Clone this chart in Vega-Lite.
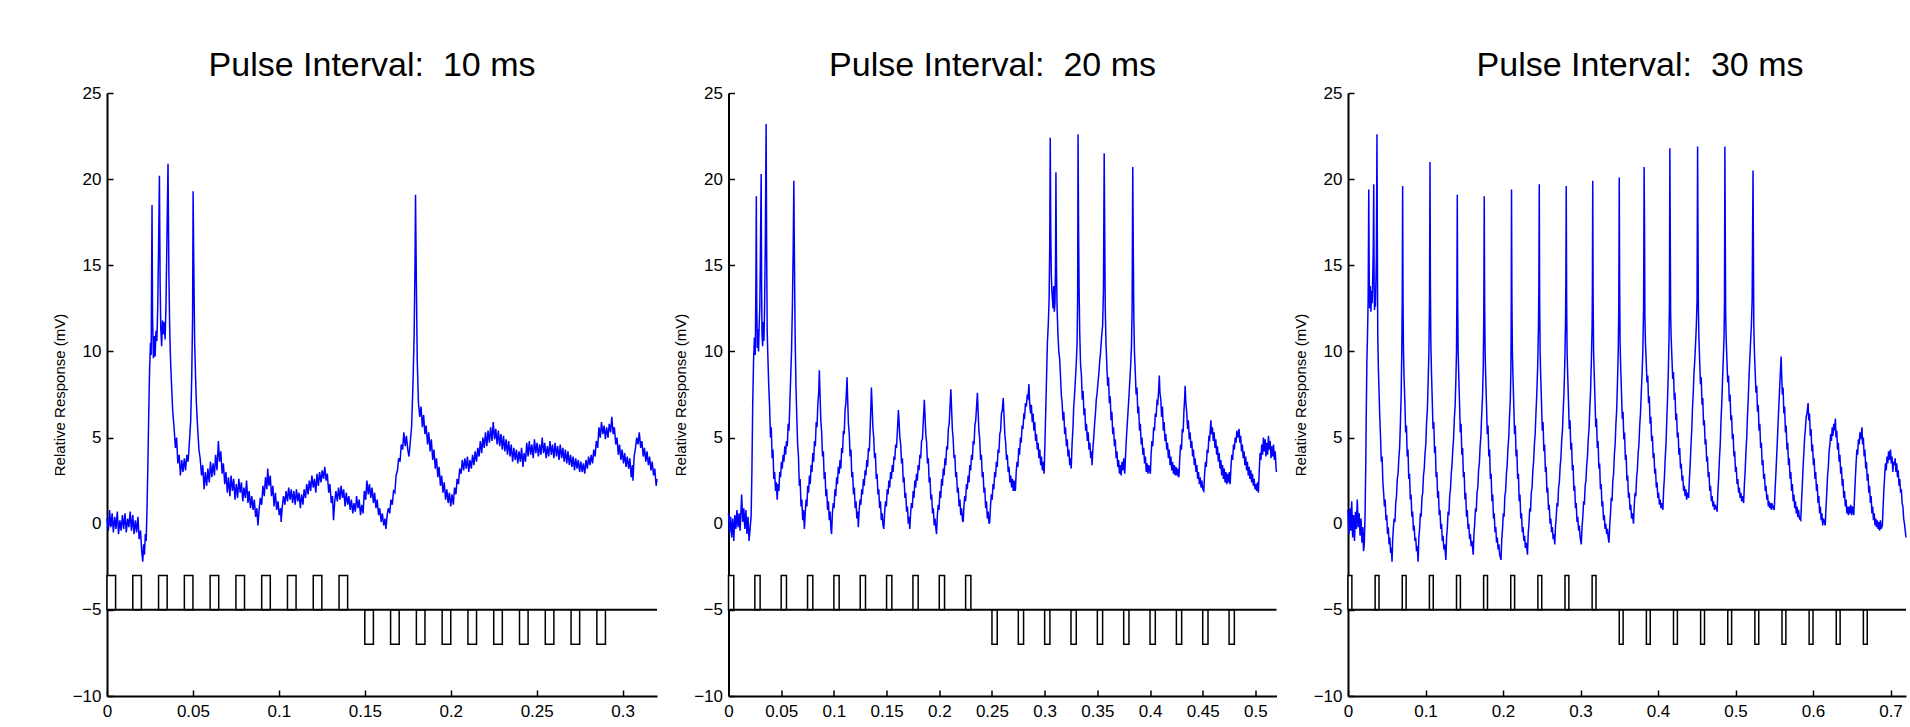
{
"$schema":"https://vega.github.io/schema/vega-lite/v6.json",
"background":"white",
"padding":{"left":52,"top":49,"right":4,"bottom":4},
"spacing":71.5,
"bounds":"flush",
"config":{
 "view":{"stroke":null},
 "axis":{"domainColor":"#000","domainWidth":2,"tickColor":"#000","tickWidth":1.5,"tickSize":-6,"labelFont":"Liberation Sans, Arial, sans-serif","labelFontSize":17,"labelColor":"#000","titleFont":"Liberation Sans, Arial, sans-serif","titleFontSize":15,"titleFontWeight":"normal","titleColor":"#000","grid":false,"labelFlush":false,"labelOverlap":false},
 "axisY":{"labelPadding":12,"titlePadding":5},
 "axisX":{"labelPadding":13},
 "title":{"font":"Liberation Sans, Arial, sans-serif","fontSize":34,"fontWeight":"normal","color":"#000","anchor":"middle","frame":"group","baseline":"alphabetic","offset":1}
},
"datasets":{
"pulse1":[{"x":0,"x2":0.005,"y":-5,"y2":-3},{"x":0.015,"x2":0.02,"y":-5,"y2":-3},{"x":0.03,"x2":0.035,"y":-5,"y2":-3},{"x":0.045,"x2":0.05,"y":-5,"y2":-3},{"x":0.06,"x2":0.065,"y":-5,"y2":-3},{"x":0.075,"x2":0.08,"y":-5,"y2":-3},{"x":0.09,"x2":0.095,"y":-5,"y2":-3},{"x":0.105,"x2":0.11,"y":-5,"y2":-3},{"x":0.12,"x2":0.125,"y":-5,"y2":-3},{"x":0.135,"x2":0.14,"y":-5,"y2":-3},
{"x":0.15,"x2":0.155,"y":-7,"y2":-5},{"x":0.165,"x2":0.17,"y":-7,"y2":-5},{"x":0.18,"x2":0.185,"y":-7,"y2":-5},{"x":0.195,"x2":0.2,"y":-7,"y2":-5},{"x":0.21,"x2":0.215,"y":-7,"y2":-5},{"x":0.225,"x2":0.23,"y":-7,"y2":-5},{"x":0.24,"x2":0.245,"y":-7,"y2":-5},{"x":0.255,"x2":0.26,"y":-7,"y2":-5},{"x":0.27,"x2":0.275,"y":-7,"y2":-5},{"x":0.285,"x2":0.29,"y":-7,"y2":-5}],
"pulse2":[{"x":0,"x2":0.005,"y":-5,"y2":-3},{"x":0.025,"x2":0.03,"y":-5,"y2":-3},{"x":0.05,"x2":0.055,"y":-5,"y2":-3},{"x":0.075,"x2":0.08,"y":-5,"y2":-3},{"x":0.1,"x2":0.105,"y":-5,"y2":-3},{"x":0.125,"x2":0.13,"y":-5,"y2":-3},{"x":0.15,"x2":0.155,"y":-5,"y2":-3},{"x":0.175,"x2":0.18,"y":-5,"y2":-3},{"x":0.2,"x2":0.205,"y":-5,"y2":-3},{"x":0.225,"x2":0.23,"y":-5,"y2":-3},
{"x":0.25,"x2":0.255,"y":-7,"y2":-5},{"x":0.275,"x2":0.28,"y":-7,"y2":-5},{"x":0.3,"x2":0.305,"y":-7,"y2":-5},{"x":0.325,"x2":0.33,"y":-7,"y2":-5},{"x":0.35,"x2":0.355,"y":-7,"y2":-5},{"x":0.375,"x2":0.38,"y":-7,"y2":-5},{"x":0.4,"x2":0.405,"y":-7,"y2":-5},{"x":0.425,"x2":0.43,"y":-7,"y2":-5},{"x":0.45,"x2":0.455,"y":-7,"y2":-5},{"x":0.475,"x2":0.48,"y":-7,"y2":-5}],
"pulse3":[{"x":0,"x2":0.005,"y":-5,"y2":-3},{"x":0.035,"x2":0.04,"y":-5,"y2":-3},{"x":0.07,"x2":0.075,"y":-5,"y2":-3},{"x":0.105,"x2":0.11,"y":-5,"y2":-3},{"x":0.14,"x2":0.145,"y":-5,"y2":-3},{"x":0.175,"x2":0.18,"y":-5,"y2":-3},{"x":0.21,"x2":0.215,"y":-5,"y2":-3},{"x":0.245,"x2":0.25,"y":-5,"y2":-3},{"x":0.28,"x2":0.285,"y":-5,"y2":-3},{"x":0.315,"x2":0.32,"y":-5,"y2":-3},
{"x":0.35,"x2":0.355,"y":-7,"y2":-5},{"x":0.385,"x2":0.39,"y":-7,"y2":-5},{"x":0.42,"x2":0.425,"y":-7,"y2":-5},{"x":0.455,"x2":0.46,"y":-7,"y2":-5},{"x":0.49,"x2":0.495,"y":-7,"y2":-5},{"x":0.525,"x2":0.53,"y":-7,"y2":-5},{"x":0.56,"x2":0.565,"y":-7,"y2":-5},{"x":0.595,"x2":0.6,"y":-7,"y2":-5},{"x":0.63,"x2":0.635,"y":-7,"y2":-5},{"x":0.665,"x2":0.67,"y":-7,"y2":-5}],
"base1":[{"x":0,"x2":0.32,"y":-5}],
"base2":[{"x":0,"x2":0.52,"y":-5}],
"base3":[{"x":0,"x2":0.72,"y":-5}],
"trace1":[
{"t":0,"v":0.3},{"t":0.0008,"v":-0.4},{"t":0.0015,"v":0.8},{"t":0.0022,"v":-0.2},{"t":0.003,"v":0.6},{"t":0.0037,"v":-0.5},{"t":0.0045,"v":0.4},{"t":0.0052,"v":-0.3},{"t":0.006,"v":0.7},{"t":0.0067,"v":-0.6},{"t":0.0075,"v":0.2},{"t":0.0082,"v":-0.4},{"t":0.009,"v":0.5},{"t":0.0097,"v":-0.3},{"t":0.0105,"v":0.6},{"t":0.0112,"v":-0.5},{"t":0.012,"v":0.3},{"t":0.0127,"v":-0.2},{"t":0.0135,"v":0.7},{"t":0.0142,"v":-0.4},{"t":0.015,"v":0.5},{"t":0.0157,"v":-0.6},{"t":0.0165,"v":0.2},{"t":0.0172,"v":-0.5},{"t":0.018,"v":0.4},{"t":0.0187,"v":-0.9},{"t":0.0195,"v":-0.4},{"t":0.0202,"v":-1.6},{"t":0.0208,"v":-2.2},{"t":0.0213,"v":-1.2},{"t":0.0218,"v":-1.8},{"t":0.0223,"v":-0.6},{"t":0.0228,"v":-1.0},{"t":0.0233,"v":1.0},{"t":0.0238,"v":3.5},{"t":0.0243,"v":6.5},{"t":0.0248,"v":9.0},{"t":0.0253,"v":10.5},{"t":0.0257,"v":9.8},{"t":0.026,"v":15},{"t":0.0262,"v":18.5},{"t":0.0265,"v":12},{"t":0.027,"v":9.6},{"t":0.0275,"v":10.9},{"t":0.028,"v":9.7},{"t":0.0285,"v":11.2},{"t":0.029,"v":10.6},{"t":0.0295,"v":12.5},{"t":0.03,"v":16},{"t":0.0305,"v":20.2},{"t":0.0309,"v":14},{"t":0.0313,"v":11.3},{"t":0.0318,"v":10.3},{"t":0.0323,"v":11.8},{"t":0.0328,"v":11.0},{"t":0.0333,"v":11.7},{"t":0.0338,"v":10.7},{"t":0.0343,"v":12.6},{"t":0.0348,"v":16},{"t":0.0355,"v":20.9},{"t":0.036,"v":14.5},{"t":0.0365,"v":11.2},{"t":0.037,"v":9.4},{"t":0.0375,"v":8.2},{"t":0.0382,"v":6.6},{"t":0.039,"v":5.6},{"t":0.0398,"v":4.4},{"t":0.0405,"v":5.0},{"t":0.0412,"v":3.5},{"t":0.042,"v":4.0},{"t":0.0427,"v":2.8},{"t":0.0435,"v":3.7},{"t":0.0442,"v":3.0},{"t":0.045,"v":3.8},{"t":0.0457,"v":3.1},{"t":0.0465,"v":4.0},{"t":0.0472,"v":3.6},{"t":0.048,"v":4.8},{"t":0.0487,"v":6.0},{"t":0.0493,"v":8.5},{"t":0.0498,"v":12},{"t":0.0501,"v":19.3},{"t":0.0505,"v":15},{"t":0.051,"v":10.5},{"t":0.0515,"v":8.6},{"t":0.052,"v":7.0},{"t":0.0527,"v":5.6},{"t":0.0535,"v":4.3},{"t":0.0542,"v":3.8},{"t":0.055,"v":2.8},{"t":0.0557,"v":3.4},{"t":0.0565,"v":2.0},{"t":0.0572,"v":3.0},{"t":0.058,"v":2.2},{"t":0.0587,"v":3.2},{"t":0.0595,"v":2.4},{"t":0.0602,"v":3.6},{"t":0.061,"v":2.7},{"t":0.0617,"v":3.5},{"t":0.0625,"v":2.8},{"t":0.0632,"v":4.0},{"t":0.064,"v":3.1},{"t":0.0648,"v":4.8},{"t":0.0655,"v":3.6},{"t":0.0662,"v":4.2},{"t":0.067,"v":2.9},{"t":0.0677,"v":3.5},{"t":0.0685,"v":2.3},{"t":0.0692,"v":3.0},{"t":0.07,"v":1.8},{"t":0.0707,"v":2.7},{"t":0.0715,"v":1.6},{"t":0.0722,"v":2.8},{"t":0.073,"v":1.9},{"t":0.0737,"v":2.6},{"t":0.0745,"v":1.4},{"t":0.0752,"v":2.3},{"t":0.076,"v":1.5},{"t":0.0767,"v":2.6},{"t":0.0775,"v":1.8},{"t":0.0782,"v":2.4},{"t":0.079,"v":1.3},{"t":0.0797,"v":2.1},{"t":0.0805,"v":1.5},{"t":0.0812,"v":2.5},{"t":0.082,"v":1.2},{"t":0.0827,"v":1.9},{"t":0.0835,"v":0.9},{"t":0.0842,"v":1.6},{"t":0.085,"v":0.8},{"t":0.0857,"v":1.4},{"t":0.0865,"v":0.4},{"t":0.0872,"v":0.9},{"t":0.0878,"v":-0.1},{"t":0.0885,"v":0.8},{"t":0.0892,"v":1.5},{"t":0.09,"v":1.1},{"t":0.0907,"v":2.2},{"t":0.0915,"v":1.6},{"t":0.0922,"v":2.7},{"t":0.093,"v":2.0},{"t":0.0935,"v":3.2},{"t":0.0942,"v":2.2},{"t":0.095,"v":2.8},{"t":0.0957,"v":1.6},{"t":0.0965,"v":2.2},{"t":0.0972,"v":1.0},{"t":0.098,"v":1.8},{"t":0.0987,"v":0.8},{"t":0.0995,"v":1.3},{"t":0.1002,"v":0.5},{"t":0.101,"v":0.9},{"t":0.1013,"v":0.1},{"t":0.102,"v":1.0},{"t":0.1027,"v":1.6},{"t":0.1035,"v":1.1},{"t":0.1042,"v":1.9},{"t":0.105,"v":1.3},{"t":0.1057,"v":2.1},{"t":0.1065,"v":1.4},{"t":0.1072,"v":2.0},{"t":0.108,"v":1.2},{"t":0.1087,"v":1.9},{"t":0.1095,"v":1.1},{"t":0.1102,"v":2.0},{"t":0.111,"v":1.3},{"t":0.1117,"v":1.8},{"t":0.1125,"v":0.9},{"t":0.1132,"v":1.7},{"t":0.114,"v":1.1},{"t":0.1147,"v":2.0},{"t":0.1155,"v":1.5},{"t":0.1162,"v":2.3},{"t":0.117,"v":1.7},{"t":0.1177,"v":2.5},{"t":0.1185,"v":1.9},{"t":0.1192,"v":2.8},{"t":0.12,"v":2.1},{"t":0.1207,"v":2.6},{"t":0.1215,"v":1.8},{"t":0.1222,"v":2.9},{"t":0.123,"v":2.2},{"t":0.1237,"v":3.0},{"t":0.1245,"v":2.4},{"t":0.1252,"v":3.1},{"t":0.126,"v":2.6},{"t":0.1267,"v":3.3},{"t":0.1275,"v":2.5},{"t":0.1282,"v":2.9},{"t":0.129,"v":1.8},{"t":0.1297,"v":2.3},{"t":0.1305,"v":1.2},{"t":0.1312,"v":1.6},{"t":0.1318,"v":0.2},{"t":0.1325,"v":1.3},{"t":0.1332,"v":1.9},{"t":0.134,"v":1.3},{"t":0.1347,"v":2.1},{"t":0.1355,"v":1.4},{"t":0.1362,"v":2.2},{"t":0.137,"v":1.5},{"t":0.1377,"v":2.0},{"t":0.1385,"v":1.0},{"t":0.1392,"v":1.8},{"t":0.14,"v":1.1},{"t":0.1407,"v":1.6},{"t":0.1415,"v":0.8},{"t":0.1422,"v":1.4},{"t":0.143,"v":0.6},{"t":0.1437,"v":1.2},{"t":0.1445,"v":0.7},{"t":0.1452,"v":1.6},{"t":0.146,"v":0.9},{"t":0.1467,"v":1.4},{"t":0.1475,"v":0.5},{"t":0.1482,"v":1.1},{"t":0.149,"v":0.6},{"t":0.1497,"v":1.9},{"t":0.1505,"v":1.4},{"t":0.1512,"v":2.5},{"t":0.152,"v":1.7},{"t":0.1527,"v":2.3},{"t":0.1535,"v":1.5},{"t":0.1542,"v":2.1},{"t":0.155,"v":1.2},{"t":0.1557,"v":1.8},{"t":0.1565,"v":0.9},{"t":0.1572,"v":1.4},{"t":0.158,"v":0.5},{"t":0.1587,"v":0.9},{"t":0.1595,"v":0.1},{"t":0.1602,"v":0.6},{"t":0.161,"v":-0.1},{"t":0.1617,"v":0.3},{"t":0.1623,"v":-0.3},{"t":0.163,"v":0.5},{"t":0.1637,"v":0.9},{"t":0.1645,"v":0.6},{"t":0.1652,"v":1.4},{"t":0.166,"v":1.1},{"t":0.1667,"v":1.9},{"t":0.1675,"v":1.8},{"t":0.1682,"v":2.8},{"t":0.169,"v":3.1},{"t":0.1697,"v":3.8},{"t":0.1705,"v":3.6},{"t":0.1712,"v":4.6},{"t":0.172,"v":4.3},{"t":0.1727,"v":5.3},{"t":0.1735,"v":4.5},{"t":0.1742,"v":5.1},{"t":0.175,"v":4.3},{"t":0.1757,"v":3.9},{"t":0.1765,"v":4.8},{"t":0.1772,"v":5.6},{"t":0.178,"v":8},{"t":0.1787,"v":11},{"t":0.1792,"v":15},{"t":0.1795,"v":19.1},{"t":0.18,"v":14},{"t":0.1805,"v":9.5},{"t":0.1812,"v":7.0},{"t":0.182,"v":6.2},{"t":0.1827,"v":6.8},{"t":0.1835,"v":5.6},{"t":0.1842,"v":6.3},{"t":0.185,"v":5.2},{"t":0.1857,"v":5.7},{"t":0.1865,"v":4.6},{"t":0.1872,"v":5.3},{"t":0.188,"v":4.2},{"t":0.1887,"v":4.9},{"t":0.1895,"v":3.7},{"t":0.1902,"v":4.3},{"t":0.191,"v":3.2},{"t":0.1917,"v":3.8},{"t":0.1925,"v":2.7},{"t":0.1932,"v":3.3},{"t":0.194,"v":2.2},{"t":0.1947,"v":2.8},{"t":0.1955,"v":1.8},{"t":0.1962,"v":2.4},{"t":0.197,"v":1.4},{"t":0.1977,"v":2.0},{"t":0.1985,"v":1.2},{"t":0.1992,"v":1.8},{"t":0.2,"v":1.0},{"t":0.2007,"v":1.7},{"t":0.2015,"v":1.1},{"t":0.2022,"v":2.1},{"t":0.203,"v":1.7},{"t":0.2037,"v":2.6},{"t":0.2045,"v":2.3},{"t":0.2052,"v":3.2},{"t":0.206,"v":2.9},{"t":0.2067,"v":3.7},{"t":0.2075,"v":3.1},{"t":0.2082,"v":3.8},{"t":0.209,"v":3.2},{"t":0.2097,"v":3.9},{"t":0.2105,"v":3.0},{"t":0.2112,"v":3.7},{"t":0.212,"v":3.2},{"t":0.2127,"v":4.0},{"t":0.2135,"v":3.4},{"t":0.2142,"v":4.2},{"t":0.215,"v":3.6},{"t":0.2157,"v":4.4},{"t":0.2165,"v":3.9},{"t":0.2172,"v":4.8},{"t":0.218,"v":4.1},{"t":0.2187,"v":5.0},{"t":0.2195,"v":4.4},{"t":0.2202,"v":5.3},{"t":0.221,"v":4.5},{"t":0.2217,"v":5.4},{"t":0.2225,"v":4.7},{"t":0.2232,"v":5.6},{"t":0.224,"v":4.8},{"t":0.2247,"v":5.9},{"t":0.2255,"v":4.9},{"t":0.2262,"v":5.5},{"t":0.227,"v":4.6},{"t":0.2277,"v":5.4},{"t":0.2285,"v":4.5},{"t":0.2292,"v":5.2},{"t":0.23,"v":4.3},{"t":0.2307,"v":5.1},{"t":0.2315,"v":4.2},{"t":0.2322,"v":4.9},{"t":0.233,"v":4.0},{"t":0.2337,"v":4.8},{"t":0.2345,"v":3.9},{"t":0.2352,"v":4.6},{"t":0.236,"v":3.6},{"t":0.2367,"v":4.4},{"t":0.2375,"v":3.7},{"t":0.2382,"v":4.3},{"t":0.239,"v":3.5},{"t":0.2397,"v":4.2},{"t":0.2405,"v":3.6},{"t":0.2412,"v":4.4},{"t":0.242,"v":3.3},{"t":0.2427,"v":4.1},{"t":0.2435,"v":3.6},{"t":0.2442,"v":4.7},{"t":0.245,"v":3.9},{"t":0.2457,"v":4.8},{"t":0.2465,"v":4.0},{"t":0.2472,"v":4.6},{"t":0.248,"v":3.8},{"t":0.2487,"v":4.9},{"t":0.2495,"v":4.1},{"t":0.2502,"v":4.7},{"t":0.251,"v":3.9},{"t":0.2517,"v":4.6},{"t":0.2525,"v":4.0},{"t":0.2532,"v":5.0},{"t":0.254,"v":4.1},{"t":0.2547,"v":4.7},{"t":0.2555,"v":3.8},{"t":0.2562,"v":4.5},{"t":0.257,"v":3.9},{"t":0.2577,"v":4.8},{"t":0.2585,"v":4.0},{"t":0.2592,"v":4.6},{"t":0.26,"v":3.8},{"t":0.2607,"v":4.7},{"t":0.2615,"v":3.9},{"t":0.2622,"v":4.5},{"t":0.263,"v":3.7},{"t":0.2637,"v":4.6},{"t":0.2645,"v":3.8},{"t":0.2652,"v":4.4},{"t":0.266,"v":3.6},{"t":0.2667,"v":4.3},{"t":0.2675,"v":3.5},{"t":0.2682,"v":4.2},{"t":0.269,"v":3.4},{"t":0.2697,"v":4.0},{"t":0.2705,"v":3.3},{"t":0.2712,"v":3.9},{"t":0.272,"v":3.1},{"t":0.2727,"v":3.8},{"t":0.2735,"v":3.2},{"t":0.2742,"v":3.7},{"t":0.275,"v":3.0},{"t":0.2757,"v":3.6},{"t":0.2765,"v":3.0},{"t":0.2772,"v":3.5},{"t":0.278,"v":2.9},{"t":0.2787,"v":3.7},{"t":0.2795,"v":3.2},{"t":0.2802,"v":3.9},{"t":0.281,"v":3.4},{"t":0.2817,"v":4.0},{"t":0.2825,"v":3.5},{"t":0.2832,"v":4.3},{"t":0.284,"v":3.9},{"t":0.2847,"v":4.8},{"t":0.2855,"v":4.4},{"t":0.2862,"v":5.6},{"t":0.287,"v":5.0},{"t":0.2877,"v":5.9},{"t":0.2885,"v":5.2},{"t":0.2892,"v":5.7},{"t":0.29,"v":4.9},{"t":0.2907,"v":5.6},{"t":0.2915,"v":5.0},{"t":0.2922,"v":5.8},{"t":0.293,"v":5.3},{"t":0.2937,"v":6.2},{"t":0.2945,"v":5.2},{"t":0.2952,"v":5.6},{"t":0.296,"v":4.6},{"t":0.2967,"v":5.0},{"t":0.2975,"v":4.0},{"t":0.2982,"v":4.6},{"t":0.299,"v":3.7},{"t":0.2997,"v":4.3},{"t":0.3005,"v":3.5},{"t":0.3012,"v":4.1},{"t":0.302,"v":3.3},{"t":0.3027,"v":3.9},{"t":0.3035,"v":3.2},{"t":0.3042,"v":3.8},{"t":0.305,"v":2.7},{"t":0.3057,"v":3.4},{"t":0.306,"v":2.5},{"t":0.3067,"v":3.9},{"t":0.3075,"v":4.4},{"t":0.3082,"v":5.0},{"t":0.309,"v":4.6},{"t":0.3097,"v":5.3},{"t":0.3105,"v":4.4},{"t":0.3112,"v":4.8},{"t":0.312,"v":3.9},{"t":0.3127,"v":4.4},{"t":0.3135,"v":3.6},{"t":0.3142,"v":4.2},{"t":0.315,"v":3.4},{"t":0.3157,"v":3.9},{"t":0.3165,"v":3.1},{"t":0.3172,"v":3.6},{"t":0.318,"v":2.8},{"t":0.3187,"v":3.2},{"t":0.3195,"v":2.2},{"t":0.32,"v":2.6}],
"trace2":[
{"t":0,"v":0.6},{"t":0.001,"v":-0.5},{"t":0.002,"v":0.4},{"t":0.003,"v":-0.8},{"t":0.004,"v":0.3},{"t":0.005,"v":-1.0},{"t":0.006,"v":0.5},{"t":0.007,"v":-0.3},{"t":0.008,"v":0.8},{"t":0.009,"v":-0.2},{"t":0.01,"v":0.6},{"t":0.011,"v":-0.4},{"t":0.0125,"v":1.7},{"t":0.0135,"v":0.1},{"t":0.0145,"v":0.9},{"t":0.0155,"v":-0.3},{"t":0.0165,"v":0.8},{"t":0.0175,"v":-0.6},{"t":0.0185,"v":0.4},{"t":0.0195,"v":-1.0},{"t":0.0205,"v":-0.3},{"t":0.0215,"v":0.5},{"t":0.0222,"v":3},{"t":0.023,"v":7},{"t":0.0238,"v":9.5},{"t":0.0246,"v":10.8},{"t":0.0254,"v":9.8},{"t":0.026,"v":14},{"t":0.0264,"v":19.0},{"t":0.0268,"v":13},{"t":0.0273,"v":10.2},{"t":0.0279,"v":11.3},{"t":0.0285,"v":10.0},{"t":0.0291,"v":11.5},{"t":0.0297,"v":12.5},{"t":0.0302,"v":15.2},{"t":0.031,"v":20.3},{"t":0.0314,"v":14},{"t":0.0318,"v":11},{"t":0.0324,"v":10.3},{"t":0.033,"v":11.7},{"t":0.0336,"v":10.6},{"t":0.0342,"v":12.4},{"t":0.0349,"v":16},{"t":0.0357,"v":23.2},{"t":0.0362,"v":16},{"t":0.0367,"v":11.2},{"t":0.0374,"v":9.6},{"t":0.0382,"v":8.0},{"t":0.039,"v":6.8},{"t":0.0398,"v":5.0},{"t":0.0406,"v":5.6},{"t":0.0414,"v":3.8},{"t":0.0422,"v":4.3},{"t":0.043,"v":2.6},{"t":0.0438,"v":3.0},{"t":0.0446,"v":1.9},{"t":0.0454,"v":2.4},{"t":0.0462,"v":1.4},{"t":0.047,"v":2.3},{"t":0.0478,"v":1.9},{"t":0.0486,"v":3.0},{"t":0.0494,"v":2.7},{"t":0.0502,"v":3.6},{"t":0.051,"v":3.2},{"t":0.0518,"v":4.0},{"t":0.0526,"v":3.6},{"t":0.0534,"v":4.5},{"t":0.0542,"v":4.0},{"t":0.055,"v":4.8},{"t":0.0558,"v":4.5},{"t":0.0566,"v":5.8},{"t":0.0574,"v":5.4},{"t":0.0582,"v":7.0},{"t":0.059,"v":8.5},{"t":0.0598,"v":10},{"t":0.0606,"v":12.5},{"t":0.0614,"v":16},{"t":0.062,"v":19.9},{"t":0.0626,"v":15},{"t":0.0632,"v":11},{"t":0.064,"v":8.0},{"t":0.0648,"v":6.2},{"t":0.0656,"v":4.6},{"t":0.0664,"v":3.9},{"t":0.0672,"v":2.2},{"t":0.068,"v":2.6},{"t":0.0688,"v":1.0},{"t":0.0696,"v":1.4},{"t":0.0704,"v":0.2},{"t":0.0712,"v":0.8},{"t":0.072,"v":-0.3},{"t":0.0728,"v":0.6},{"t":0.0736,"v":1.4},{"t":0.0744,"v":1.0},{"t":0.0752,"v":2.2},{"t":0.076,"v":1.8},{"t":0.0768,"v":2.8},{"t":0.0776,"v":2.3},{"t":0.0784,"v":3.4},{"t":0.0792,"v":3.0},{"t":0.08,"v":4.1},{"t":0.0808,"v":3.6},{"t":0.0816,"v":4.8},{"t":0.0824,"v":4.5},{"t":0.0832,"v":5.9},{"t":0.084,"v":5.6},{"t":0.0848,"v":7.0},{"t":0.0856,"v":7.6},{"t":0.0862,"v":8.9},{"t":0.0868,"v":7.6},{"t":0.0876,"v":6.0},{"t":0.0884,"v":5.3},{"t":0.0892,"v":3.9},{"t":0.09,"v":4.2},{"t":0.0908,"v":2.6},{"t":0.0916,"v":3.0},{"t":0.0924,"v":1.6},{"t":0.0932,"v":2.0},{"t":0.094,"v":0.8},{"t":0.0948,"v":1.3},{"t":0.0956,"v":0.2},{"t":0.0964,"v":0.7},{"t":0.0972,"v":-0.3},{"t":0.0978,"v":-0.6},{"t":0.0986,"v":0.6},{"t":0.0994,"v":1.2},{"t":0.1002,"v":0.9},{"t":0.101,"v":2.0},{"t":0.1018,"v":1.6},{"t":0.1026,"v":2.7},{"t":0.1034,"v":2.3},{"t":0.1042,"v":3.3},{"t":0.105,"v":2.9},{"t":0.1058,"v":3.7},{"t":0.1066,"v":3.2},{"t":0.1074,"v":4.4},{"t":0.1082,"v":4.1},{"t":0.109,"v":5.4},{"t":0.1098,"v":5.2},{"t":0.1106,"v":6.6},{"t":0.1114,"v":7.0},{"t":0.112,"v":7.8},{"t":0.1125,"v":8.5},{"t":0.113,"v":7.4},{"t":0.1138,"v":5.8},{"t":0.1146,"v":5.2},{"t":0.1154,"v":3.9},{"t":0.1162,"v":4.3},{"t":0.117,"v":2.7},{"t":0.1178,"v":3.0},{"t":0.1186,"v":1.7},{"t":0.1194,"v":2.1},{"t":0.1202,"v":0.9},{"t":0.121,"v":1.3},{"t":0.1218,"v":0.3},{"t":0.1226,"v":0.7},{"t":0.1232,"v":-0.2},{"t":0.124,"v":0.8},{"t":0.1248,"v":1.4},{"t":0.1256,"v":1.1},{"t":0.1264,"v":2.0},{"t":0.1272,"v":1.7},{"t":0.128,"v":2.6},{"t":0.1288,"v":2.2},{"t":0.1296,"v":3.1},{"t":0.1304,"v":2.8},{"t":0.1312,"v":3.7},{"t":0.132,"v":3.3},{"t":0.1328,"v":4.4},{"t":0.1336,"v":4.2},{"t":0.1344,"v":5.5},{"t":0.135,"v":6.6},{"t":0.1356,"v":7.9},{"t":0.1362,"v":7.0},{"t":0.137,"v":5.6},{"t":0.1378,"v":5.0},{"t":0.1386,"v":3.8},{"t":0.1394,"v":4.1},{"t":0.1402,"v":2.6},{"t":0.141,"v":2.9},{"t":0.1418,"v":1.7},{"t":0.1426,"v":2.0},{"t":0.1434,"v":0.9},{"t":0.1442,"v":1.3},{"t":0.145,"v":0.2},{"t":0.1458,"v":0.6},{"t":0.1466,"v":-0.1},{"t":0.1474,"v":-0.3},{"t":0.1482,"v":0.7},{"t":0.149,"v":1.3},{"t":0.1498,"v":1.0},{"t":0.1506,"v":2.0},{"t":0.1514,"v":1.7},{"t":0.1522,"v":2.5},{"t":0.153,"v":2.1},{"t":0.1538,"v":3.0},{"t":0.1546,"v":2.6},{"t":0.1554,"v":3.4},{"t":0.1562,"v":3.0},{"t":0.157,"v":3.9},{"t":0.1578,"v":3.7},{"t":0.1586,"v":4.6},{"t":0.1594,"v":4.4},{"t":0.1602,"v":5.3},{"t":0.1608,"v":6.0},{"t":0.1612,"v":6.6},{"t":0.1618,"v":6.0},{"t":0.1626,"v":5.0},{"t":0.1634,"v":4.6},{"t":0.1642,"v":3.5},{"t":0.165,"v":3.8},{"t":0.1658,"v":2.4},{"t":0.1666,"v":2.7},{"t":0.1674,"v":1.5},{"t":0.1682,"v":1.8},{"t":0.169,"v":0.7},{"t":0.1698,"v":1.0},{"t":0.1706,"v":0.0},{"t":0.1714,"v":0.4},{"t":0.172,"v":-0.3},{"t":0.1728,"v":0.6},{"t":0.1736,"v":1.2},{"t":0.1744,"v":0.9},{"t":0.1752,"v":1.9},{"t":0.176,"v":1.5},{"t":0.1768,"v":2.5},{"t":0.1776,"v":2.1},{"t":0.1784,"v":2.9},{"t":0.1792,"v":2.5},{"t":0.18,"v":3.4},{"t":0.1808,"v":3.1},{"t":0.1816,"v":4.0},{"t":0.1824,"v":3.8},{"t":0.1832,"v":4.8},{"t":0.184,"v":4.9},{"t":0.1848,"v":5.9},{"t":0.1854,"v":6.6},{"t":0.1858,"v":7.2},{"t":0.1864,"v":6.4},{"t":0.1872,"v":5.2},{"t":0.188,"v":4.7},{"t":0.1888,"v":3.5},{"t":0.1896,"v":3.8},{"t":0.1904,"v":2.4},{"t":0.1912,"v":2.7},{"t":0.192,"v":1.4},{"t":0.1928,"v":1.7},{"t":0.1936,"v":0.6},{"t":0.1944,"v":0.9},{"t":0.1952,"v":-0.1},{"t":0.196,"v":0.3},{"t":0.1968,"v":-0.3},{"t":0.1974,"v":-0.6},{"t":0.1982,"v":0.5},{"t":0.199,"v":1.1},{"t":0.1998,"v":0.8},{"t":0.2006,"v":1.9},{"t":0.2014,"v":1.5},{"t":0.2022,"v":2.6},{"t":0.203,"v":2.2},{"t":0.2038,"v":3.2},{"t":0.2046,"v":2.8},{"t":0.2054,"v":3.8},{"t":0.2062,"v":3.4},{"t":0.207,"v":4.5},{"t":0.2078,"v":4.3},{"t":0.2086,"v":5.5},{"t":0.2094,"v":5.8},{"t":0.2102,"v":6.8},{"t":0.211,"v":7.8},{"t":0.2116,"v":6.8},{"t":0.2124,"v":5.5},{"t":0.2132,"v":4.9},{"t":0.214,"v":3.8},{"t":0.2148,"v":4.0},{"t":0.2156,"v":2.7},{"t":0.2164,"v":3.0},{"t":0.2172,"v":1.8},{"t":0.218,"v":2.1},{"t":0.2188,"v":1.0},{"t":0.2196,"v":1.4},{"t":0.2204,"v":0.5},{"t":0.2212,"v":0.9},{"t":0.222,"v":0.2},{"t":0.2227,"v":0.1},{"t":0.2234,"v":1.0},{"t":0.2242,"v":1.6},{"t":0.225,"v":1.3},{"t":0.2258,"v":2.3},{"t":0.2266,"v":2.0},{"t":0.2274,"v":2.8},{"t":0.2282,"v":2.4},{"t":0.229,"v":3.4},{"t":0.2298,"v":3.1},{"t":0.2306,"v":4.0},{"t":0.2314,"v":3.7},{"t":0.2322,"v":4.8},{"t":0.233,"v":4.6},{"t":0.2338,"v":5.7},{"t":0.2346,"v":6.0},{"t":0.2354,"v":6.8},{"t":0.2362,"v":7.6},{"t":0.2368,"v":6.6},{"t":0.2376,"v":5.4},{"t":0.2384,"v":4.9},{"t":0.2392,"v":3.7},{"t":0.24,"v":4.0},{"t":0.2408,"v":2.7},{"t":0.2416,"v":3.0},{"t":0.2424,"v":1.8},{"t":0.2432,"v":2.1},{"t":0.244,"v":0.9},{"t":0.2448,"v":1.3},{"t":0.2456,"v":0.3},{"t":0.2464,"v":0.7},{"t":0.2472,"v":0.0},{"t":0.2479,"v":0.1},{"t":0.2486,"v":1.0},{"t":0.2494,"v":1.7},{"t":0.2502,"v":1.4},{"t":0.251,"v":2.3},{"t":0.2518,"v":2.0},{"t":0.2526,"v":3.0},{"t":0.2534,"v":2.7},{"t":0.2542,"v":3.6},{"t":0.255,"v":3.3},{"t":0.2558,"v":4.3},{"t":0.2566,"v":4.1},{"t":0.2574,"v":5.2},{"t":0.2582,"v":5.4},{"t":0.259,"v":6.4},{"t":0.2598,"v":6.6},{"t":0.2607,"v":7.3},{"t":0.2614,"v":6.3},{"t":0.2622,"v":5.2},{"t":0.263,"v":4.7},{"t":0.2638,"v":3.7},{"t":0.2646,"v":4.0},{"t":0.2654,"v":3.0},{"t":0.2662,"v":3.3},{"t":0.267,"v":2.4},{"t":0.2678,"v":2.8},{"t":0.2686,"v":2.1},{"t":0.2694,"v":2.6},{"t":0.2702,"v":1.9},{"t":0.271,"v":2.5},{"t":0.2718,"v":1.9},{"t":0.2723,"v":2.0},{"t":0.273,"v":3.0},{"t":0.2738,"v":3.6},{"t":0.2746,"v":3.3},{"t":0.2754,"v":4.4},{"t":0.2762,"v":4.0},{"t":0.277,"v":5.0},{"t":0.2778,"v":4.7},{"t":0.2786,"v":5.7},{"t":0.2794,"v":5.5},{"t":0.2802,"v":6.3},{"t":0.281,"v":6.2},{"t":0.2818,"v":7.0},{"t":0.2826,"v":6.8},{"t":0.2834,"v":7.4},{"t":0.2842,"v":7.3},{"t":0.2851,"v":8.1},{"t":0.2858,"v":7.0},{"t":0.2866,"v":6.4},{"t":0.2874,"v":6.9},{"t":0.2882,"v":5.9},{"t":0.289,"v":6.4},{"t":0.2898,"v":5.4},{"t":0.2906,"v":5.9},{"t":0.2914,"v":4.8},{"t":0.2922,"v":5.2},{"t":0.293,"v":4.3},{"t":0.2938,"v":4.7},{"t":0.2946,"v":3.8},{"t":0.2954,"v":4.3},{"t":0.2962,"v":3.4},{"t":0.297,"v":3.9},{"t":0.2978,"v":3.1},{"t":0.2986,"v":3.6},{"t":0.2995,"v":2.9},{"t":0.3002,"v":4.5},{"t":0.301,"v":6.5},{"t":0.3018,"v":8.5},{"t":0.3026,"v":10.5},{"t":0.3034,"v":11.5},{"t":0.3042,"v":13},{"t":0.3048,"v":16},{"t":0.3053,"v":22.4},{"t":0.3058,"v":17},{"t":0.3063,"v":14.5},{"t":0.3068,"v":13.6},{"t":0.3074,"v":13.0},{"t":0.308,"v":12.5},{"t":0.3086,"v":13.8},{"t":0.3092,"v":12.3},{"t":0.3098,"v":12.8},{"t":0.3103,"v":15},{"t":0.3107,"v":20.4},{"t":0.3112,"v":15},{"t":0.3118,"v":12.5},{"t":0.3126,"v":11},{"t":0.3134,"v":10},{"t":0.3142,"v":9.6},{"t":0.315,"v":8.6},{"t":0.3158,"v":7.5},{"t":0.3166,"v":7.0},{"t":0.3174,"v":6.0},{"t":0.3182,"v":6.5},{"t":0.319,"v":5.2},{"t":0.3198,"v":5.6},{"t":0.3206,"v":4.5},{"t":0.3214,"v":4.9},{"t":0.3222,"v":3.9},{"t":0.323,"v":4.3},{"t":0.3238,"v":3.4},{"t":0.3246,"v":3.8},{"t":0.3252,"v":3.2},{"t":0.326,"v":4.6},{"t":0.3268,"v":5.5},{"t":0.3276,"v":6.8},{"t":0.3284,"v":7.5},{"t":0.3292,"v":8.4},{"t":0.33,"v":9.3},{"t":0.3308,"v":10.5},{"t":0.3313,"v":13},{"t":0.3317,"v":22.6},{"t":0.3322,"v":17},{"t":0.3327,"v":13.5},{"t":0.3333,"v":11},{"t":0.3341,"v":9.2},{"t":0.3349,"v":8.6},{"t":0.3357,"v":7.2},{"t":0.3365,"v":7.7},{"t":0.3373,"v":6.3},{"t":0.3381,"v":6.7},{"t":0.3389,"v":5.4},{"t":0.3397,"v":5.8},{"t":0.3405,"v":4.8},{"t":0.3413,"v":5.3},{"t":0.3421,"v":4.3},{"t":0.3429,"v":4.7},{"t":0.3437,"v":3.8},{"t":0.3445,"v":4.2},{"t":0.345,"v":3.4},{"t":0.3458,"v":4.4},{"t":0.3466,"v":5.0},{"t":0.3474,"v":5.8},{"t":0.3482,"v":6.4},{"t":0.349,"v":7.2},{"t":0.3498,"v":7.6},{"t":0.3506,"v":8.2},{"t":0.3514,"v":8.7},{"t":0.3522,"v":9.4},{"t":0.353,"v":9.9},{"t":0.354,"v":10.8},{"t":0.355,"v":11.5},{"t":0.3558,"v":13.5},{"t":0.3565,"v":21.5},{"t":0.357,"v":17},{"t":0.3575,"v":12.5},{"t":0.3582,"v":10.5},{"t":0.359,"v":9.2},{"t":0.3598,"v":8.0},{"t":0.3606,"v":8.5},{"t":0.3614,"v":7.0},{"t":0.3622,"v":7.4},{"t":0.363,"v":6.0},{"t":0.3638,"v":6.5},{"t":0.3646,"v":5.2},{"t":0.3654,"v":5.6},{"t":0.3662,"v":4.5},{"t":0.367,"v":4.9},{"t":0.3678,"v":3.8},{"t":0.3686,"v":4.2},{"t":0.3694,"v":3.3},{"t":0.3702,"v":3.7},{"t":0.371,"v":2.9},{"t":0.3718,"v":3.4},{"t":0.3726,"v":2.8},{"t":0.3734,"v":3.6},{"t":0.3742,"v":3.1},{"t":0.375,"v":3.8},{"t":0.376,"v":2.9},{"t":0.3768,"v":4.0},{"t":0.3776,"v":5.0},{"t":0.3784,"v":5.8},{"t":0.3792,"v":6.6},{"t":0.38,"v":7.4},{"t":0.3808,"v":8.3},{"t":0.3816,"v":9.2},{"t":0.3824,"v":10.3},{"t":0.383,"v":12.5},{"t":0.3836,"v":20.7},{"t":0.3841,"v":16},{"t":0.3846,"v":12},{"t":0.3852,"v":10.0},{"t":0.386,"v":8.8},{"t":0.3868,"v":7.5},{"t":0.3876,"v":7.9},{"t":0.3884,"v":6.4},{"t":0.3892,"v":6.8},{"t":0.39,"v":5.4},{"t":0.3908,"v":5.8},{"t":0.3916,"v":4.6},{"t":0.3924,"v":5.0},{"t":0.3932,"v":4.0},{"t":0.394,"v":4.4},{"t":0.3948,"v":3.5},{"t":0.3956,"v":3.9},{"t":0.3964,"v":3.0},{"t":0.3972,"v":3.5},{"t":0.398,"v":2.9},{"t":0.3988,"v":3.4},{"t":0.3996,"v":3.1},{"t":0.4003,"v":2.9},{"t":0.401,"v":4.0},{"t":0.4018,"v":4.8},{"t":0.4026,"v":4.5},{"t":0.4034,"v":5.6},{"t":0.4042,"v":5.4},{"t":0.405,"v":6.4},{"t":0.4058,"v":6.2},{"t":0.4066,"v":7.1},{"t":0.4074,"v":7.0},{"t":0.4082,"v":7.8},{"t":0.4088,"v":8.6},{"t":0.4094,"v":7.6},{"t":0.4102,"v":7.2},{"t":0.411,"v":6.2},{"t":0.4118,"v":6.8},{"t":0.4126,"v":5.4},{"t":0.4134,"v":5.9},{"t":0.4142,"v":4.8},{"t":0.415,"v":5.2},{"t":0.4158,"v":4.3},{"t":0.4166,"v":4.7},{"t":0.4174,"v":3.8},{"t":0.4182,"v":4.3},{"t":0.419,"v":3.4},{"t":0.4198,"v":3.9},{"t":0.4206,"v":3.1},{"t":0.4214,"v":3.6},{"t":0.4222,"v":2.9},{"t":0.423,"v":3.4},{"t":0.4238,"v":2.8},{"t":0.4246,"v":3.3},{"t":0.4254,"v":2.8},{"t":0.4262,"v":3.2},{"t":0.427,"v":2.7},{"t":0.4275,"v":2.8},{"t":0.4282,"v":3.8},{"t":0.429,"v":4.6},{"t":0.4298,"v":4.3},{"t":0.4306,"v":5.5},{"t":0.4314,"v":5.3},{"t":0.4322,"v":6.6},{"t":0.4328,"v":7.2},{"t":0.4333,"v":8.0},{"t":0.434,"v":7.0},{"t":0.4348,"v":6.5},{"t":0.4356,"v":5.5},{"t":0.4364,"v":6.0},{"t":0.4372,"v":4.9},{"t":0.438,"v":5.3},{"t":0.4388,"v":4.4},{"t":0.4396,"v":4.8},{"t":0.4404,"v":3.9},{"t":0.4412,"v":4.3},{"t":0.442,"v":3.4},{"t":0.4428,"v":3.8},{"t":0.4436,"v":3.0},{"t":0.4444,"v":3.4},{"t":0.4452,"v":2.6},{"t":0.446,"v":3.0},{"t":0.4468,"v":2.3},{"t":0.4476,"v":2.7},{"t":0.4484,"v":2.1},{"t":0.4492,"v":2.5},{"t":0.45,"v":2.0},{"t":0.451,"v":1.9},{"t":0.4518,"v":2.9},{"t":0.4526,"v":3.6},{"t":0.4534,"v":3.3},{"t":0.4542,"v":4.3},{"t":0.455,"v":4.1},{"t":0.4558,"v":5.0},{"t":0.4566,"v":4.9},{"t":0.4574,"v":5.7},{"t":0.4577,"v":6.0},{"t":0.4584,"v":5.2},{"t":0.4592,"v":5.6},{"t":0.46,"v":4.8},{"t":0.4608,"v":5.3},{"t":0.4616,"v":4.4},{"t":0.4624,"v":4.9},{"t":0.4632,"v":4.0},{"t":0.464,"v":4.5},{"t":0.4648,"v":3.6},{"t":0.4656,"v":4.1},{"t":0.4664,"v":3.2},{"t":0.4672,"v":3.7},{"t":0.468,"v":2.8},{"t":0.4688,"v":3.4},{"t":0.4696,"v":2.6},{"t":0.4704,"v":3.2},{"t":0.4712,"v":2.4},{"t":0.472,"v":3.0},{"t":0.4728,"v":2.3},{"t":0.4736,"v":2.9},{"t":0.4744,"v":2.4},{"t":0.4752,"v":3.0},{"t":0.476,"v":2.3},{"t":0.4768,"v":3.3},{"t":0.4776,"v":4.0},{"t":0.4784,"v":3.7},{"t":0.4792,"v":4.6},{"t":0.48,"v":4.3},{"t":0.4808,"v":5.0},{"t":0.4816,"v":4.7},{"t":0.4824,"v":5.4},{"t":0.4832,"v":5.0},{"t":0.4845,"v":5.5},{"t":0.4852,"v":4.7},{"t":0.486,"v":5.1},{"t":0.4868,"v":4.2},{"t":0.4876,"v":4.6},{"t":0.4884,"v":3.8},{"t":0.4892,"v":4.2},{"t":0.49,"v":3.4},{"t":0.4908,"v":3.9},{"t":0.4916,"v":3.1},{"t":0.4924,"v":3.6},{"t":0.4932,"v":2.8},{"t":0.494,"v":3.3},{"t":0.4948,"v":2.6},{"t":0.4956,"v":3.1},{"t":0.4964,"v":2.4},{"t":0.4972,"v":2.9},{"t":0.498,"v":2.2},{"t":0.4988,"v":2.6},{"t":0.4996,"v":2.0},{"t":0.5004,"v":2.3},{"t":0.5012,"v":1.9},{"t":0.502,"v":2.4},{"t":0.5028,"v":1.8},{"t":0.5036,"v":3.0},{"t":0.5044,"v":4.1},{"t":0.5052,"v":3.7},{"t":0.506,"v":4.6},{"t":0.5068,"v":4.0},{"t":0.5076,"v":5.0},{"t":0.5084,"v":4.2},{"t":0.5092,"v":4.9},{"t":0.51,"v":3.9},{"t":0.5108,"v":4.7},{"t":0.5116,"v":4.0},{"t":0.5124,"v":5.1},{"t":0.5132,"v":4.3},{"t":0.514,"v":4.8},{"t":0.5148,"v":3.8},{"t":0.5156,"v":4.5},{"t":0.5164,"v":3.9},{"t":0.5172,"v":4.6},{"t":0.518,"v":3.7},{"t":0.5188,"v":4.2},{"t":0.5196,"v":3.2},{"t":0.52,"v":3.0}],
"trace3":[
{"t":0,"v":0.8},{"t":0.0012,"v":-0.6},{"t":0.0024,"v":0.9},{"t":0.0036,"v":-0.4},{"t":0.0048,"v":1.3},{"t":0.006,"v":-0.8},{"t":0.0072,"v":0.5},{"t":0.0084,"v":-1.0},{"t":0.0096,"v":0.7},{"t":0.0108,"v":-0.3},{"t":0.012,"v":1.4},{"t":0.0132,"v":-0.2},{"t":0.0144,"v":0.6},{"t":0.0156,"v":-0.7},{"t":0.0168,"v":0.3},{"t":0.018,"v":-1.1},{"t":0.0192,"v":-0.2},{"t":0.02,"v":-1.6},{"t":0.021,"v":-1.2},{"t":0.022,"v":0.5},{"t":0.0228,"v":3},{"t":0.0236,"v":6.5},{"t":0.0244,"v":9.5},{"t":0.0252,"v":11},{"t":0.026,"v":13},{"t":0.0268,"v":19.4},{"t":0.0274,"v":14},{"t":0.028,"v":12.5},{"t":0.0288,"v":13.8},{"t":0.0296,"v":12.3},{"t":0.0304,"v":13.5},{"t":0.0312,"v":12.8},{"t":0.032,"v":14.5},{"t":0.0326,"v":16},{"t":0.0332,"v":19.7},{"t":0.0337,"v":14},{"t":0.0342,"v":12.4},{"t":0.0348,"v":13.6},{"t":0.0354,"v":12.6},{"t":0.036,"v":14.0},{"t":0.0366,"v":15.5},{"t":0.0374,"v":22.6},{"t":0.0379,"v":16},{"t":0.0384,"v":11},{"t":0.0392,"v":9.0},{"t":0.04,"v":7.8},{"t":0.041,"v":6.2},{"t":0.042,"v":5.0},{"t":0.043,"v":3.6},{"t":0.044,"v":3.9},{"t":0.045,"v":2.4},{"t":0.046,"v":1.8},{"t":0.047,"v":1.0},{"t":0.048,"v":1.4},{"t":0.049,"v":0.2},{"t":0.05,"v":0.5},{"t":0.051,"v":-0.6},{"t":0.052,"v":-0.2},{"t":0.053,"v":-1.2},{"t":0.054,"v":-0.8},{"t":0.055,"v":-1.7},{"t":0.056,"v":-1.4},{"t":0.0568,"v":-2.2},{"t":0.0576,"v":-1.0},{"t":0.0586,"v":-0.2},{"t":0.0596,"v":0.3},{"t":0.0606,"v":0.1},{"t":0.0616,"v":1.2},{"t":0.0626,"v":1.6},{"t":0.0636,"v":2.6},{"t":0.0646,"v":2.9},{"t":0.0656,"v":3.8},{"t":0.0666,"v":4.4},{"t":0.0676,"v":5.8},{"t":0.0686,"v":7.5},{"t":0.0694,"v":10},{"t":0.07,"v":13},{"t":0.0705,"v":19.6},{"t":0.071,"v":13},{"t":0.0716,"v":10},{"t":0.0724,"v":8.4},{"t":0.0734,"v":7.0},{"t":0.0744,"v":5.3},{"t":0.0754,"v":5.7},{"t":0.0764,"v":3.9},{"t":0.0774,"v":4.3},{"t":0.0784,"v":2.6},{"t":0.0794,"v":2.9},{"t":0.0804,"v":1.4},{"t":0.0814,"v":1.7},{"t":0.0824,"v":0.4},{"t":0.0834,"v":0.7},{"t":0.0844,"v":-0.4},{"t":0.0854,"v":-0.1},{"t":0.0864,"v":-1.0},{"t":0.0874,"v":-0.8},{"t":0.0884,"v":-1.6},{"t":0.0894,"v":-1.3},{"t":0.0905,"v":-2.2},{"t":0.0914,"v":-0.8},{"t":0.0924,"v":-0.3},{"t":0.0934,"v":0.6},{"t":0.0944,"v":0.4},{"t":0.0954,"v":1.5},{"t":0.0964,"v":1.8},{"t":0.0974,"v":2.8},{"t":0.0984,"v":3.2},{"t":0.0994,"v":4.1},{"t":0.1004,"v":4.6},{"t":0.1014,"v":5.9},{"t":0.1024,"v":6.6},{"t":0.1034,"v":8.2},{"t":0.1044,"v":10},{"t":0.1052,"v":13},{"t":0.1058,"v":21.0},{"t":0.1063,"v":14},{"t":0.1069,"v":10.5},{"t":0.1077,"v":8.8},{"t":0.1087,"v":7.2},{"t":0.1097,"v":5.5},{"t":0.1107,"v":5.9},{"t":0.1117,"v":4.1},{"t":0.1127,"v":4.5},{"t":0.1137,"v":2.7},{"t":0.1147,"v":3.0},{"t":0.1157,"v":1.5},{"t":0.1167,"v":1.9},{"t":0.1177,"v":0.5},{"t":0.1187,"v":0.8},{"t":0.1197,"v":-0.3},{"t":0.1207,"v":0.0},{"t":0.1217,"v":-1.0},{"t":0.1227,"v":-0.7},{"t":0.1237,"v":-1.5},{"t":0.1247,"v":-1.2},{"t":0.1263,"v":-2.1},{"t":0.1272,"v":-0.8},{"t":0.1282,"v":-0.2},{"t":0.1292,"v":0.7},{"t":0.1302,"v":0.5},{"t":0.1312,"v":1.6},{"t":0.1322,"v":2.0},{"t":0.1332,"v":2.9},{"t":0.1342,"v":3.4},{"t":0.1352,"v":4.3},{"t":0.1362,"v":4.9},{"t":0.1372,"v":6.1},{"t":0.1382,"v":6.8},{"t":0.1392,"v":8.4},{"t":0.14,"v":10},{"t":0.1405,"v":13},{"t":0.141,"v":19.1},{"t":0.1415,"v":13},{"t":0.1421,"v":10},{"t":0.1429,"v":8.6},{"t":0.1439,"v":7.0},{"t":0.1449,"v":5.3},{"t":0.1459,"v":5.8},{"t":0.1469,"v":4.0},{"t":0.1479,"v":4.4},{"t":0.1489,"v":2.7},{"t":0.1499,"v":3.0},{"t":0.1509,"v":1.4},{"t":0.1519,"v":1.8},{"t":0.1529,"v":0.4},{"t":0.1539,"v":0.8},{"t":0.1549,"v":-0.3},{"t":0.1559,"v":0.0},{"t":0.1569,"v":-0.9},{"t":0.1579,"v":-0.6},{"t":0.1589,"v":-1.3},{"t":0.1599,"v":-1.0},{"t":0.1616,"v":-1.8},{"t":0.1625,"v":-0.6},{"t":0.1635,"v":0.0},{"t":0.1645,"v":0.9},{"t":0.1655,"v":0.7},{"t":0.1665,"v":1.8},{"t":0.1675,"v":2.1},{"t":0.1685,"v":3.1},{"t":0.1695,"v":3.5},{"t":0.1705,"v":4.5},{"t":0.1715,"v":5.1},{"t":0.1725,"v":6.3},{"t":0.1735,"v":7.3},{"t":0.1745,"v":9.0},{"t":0.1752,"v":12},{"t":0.1758,"v":19.0},{"t":0.1763,"v":13},{"t":0.1769,"v":10},{"t":0.1777,"v":8.5},{"t":0.1787,"v":6.9},{"t":0.1797,"v":5.2},{"t":0.1807,"v":5.7},{"t":0.1817,"v":3.9},{"t":0.1827,"v":4.3},{"t":0.1837,"v":2.6},{"t":0.1847,"v":2.9},{"t":0.1857,"v":1.3},{"t":0.1867,"v":1.7},{"t":0.1877,"v":0.3},{"t":0.1887,"v":0.6},{"t":0.1897,"v":-0.5},{"t":0.1907,"v":-0.2},{"t":0.1917,"v":-1.1},{"t":0.1927,"v":-0.8},{"t":0.1937,"v":-1.5},{"t":0.1947,"v":-1.2},{"t":0.1957,"v":-1.8},{"t":0.1974,"v":-2.1},{"t":0.1984,"v":-0.9},{"t":0.1994,"v":-0.3},{"t":0.2004,"v":0.6},{"t":0.2014,"v":0.4},{"t":0.2024,"v":1.6},{"t":0.2034,"v":1.9},{"t":0.2044,"v":2.9},{"t":0.2054,"v":3.4},{"t":0.2064,"v":4.4},{"t":0.2074,"v":5.0},{"t":0.2084,"v":6.2},{"t":0.2094,"v":7.2},{"t":0.2102,"v":9.0},{"t":0.2106,"v":12},{"t":0.211,"v":19.4},{"t":0.2115,"v":13},{"t":0.2121,"v":10},{"t":0.2129,"v":8.5},{"t":0.2139,"v":6.9},{"t":0.2149,"v":5.2},{"t":0.2159,"v":5.7},{"t":0.2169,"v":3.9},{"t":0.2179,"v":4.3},{"t":0.2189,"v":2.6},{"t":0.2199,"v":2.9},{"t":0.2209,"v":1.3},{"t":0.2219,"v":1.7},{"t":0.2229,"v":0.3},{"t":0.2239,"v":0.6},{"t":0.2249,"v":-0.5},{"t":0.2259,"v":-0.2},{"t":0.2269,"v":-1.0},{"t":0.2279,"v":-0.7},{"t":0.2289,"v":-1.4},{"t":0.2299,"v":-1.1},{"t":0.2316,"v":-1.8},{"t":0.2325,"v":-0.6},{"t":0.2335,"v":0.0},{"t":0.2345,"v":0.9},{"t":0.2355,"v":0.7},{"t":0.2365,"v":1.8},{"t":0.2375,"v":2.1},{"t":0.2385,"v":3.1},{"t":0.2395,"v":3.6},{"t":0.2405,"v":4.6},{"t":0.2415,"v":5.2},{"t":0.2425,"v":6.4},{"t":0.2435,"v":7.4},{"t":0.2448,"v":9.2},{"t":0.2458,"v":11.5},{"t":0.2463,"v":14},{"t":0.2468,"v":19.7},{"t":0.2473,"v":13},{"t":0.2479,"v":10},{"t":0.2487,"v":8.5},{"t":0.2497,"v":7.0},{"t":0.2507,"v":5.4},{"t":0.2517,"v":5.9},{"t":0.2527,"v":4.2},{"t":0.2537,"v":4.6},{"t":0.2547,"v":3.0},{"t":0.2557,"v":3.3},{"t":0.2567,"v":1.8},{"t":0.2577,"v":2.1},{"t":0.2587,"v":0.8},{"t":0.2597,"v":1.1},{"t":0.2607,"v":0.0},{"t":0.2617,"v":0.3},{"t":0.2627,"v":-0.5},{"t":0.2637,"v":-0.2},{"t":0.2647,"v":-0.9},{"t":0.2657,"v":-0.6},{"t":0.2668,"v":-1.2},{"t":0.2677,"v":-0.2},{"t":0.2687,"v":0.4},{"t":0.2697,"v":1.2},{"t":0.2707,"v":1.0},{"t":0.2717,"v":2.1},{"t":0.2727,"v":2.4},{"t":0.2737,"v":3.3},{"t":0.2747,"v":3.8},{"t":0.2757,"v":4.8},{"t":0.2767,"v":5.4},{"t":0.2777,"v":6.6},{"t":0.2787,"v":7.6},{"t":0.2797,"v":9.3},{"t":0.2806,"v":11.5},{"t":0.2811,"v":14},{"t":0.2816,"v":19.6},{"t":0.2821,"v":13},{"t":0.2827,"v":10},{"t":0.2835,"v":8.6},{"t":0.2845,"v":7.1},{"t":0.2855,"v":5.5},{"t":0.2865,"v":6.0},{"t":0.2875,"v":4.3},{"t":0.2885,"v":4.7},{"t":0.2895,"v":3.1},{"t":0.2905,"v":3.4},{"t":0.2915,"v":1.9},{"t":0.2925,"v":2.2},{"t":0.2935,"v":0.9},{"t":0.2945,"v":1.2},{"t":0.2955,"v":0.1},{"t":0.2965,"v":0.4},{"t":0.2975,"v":-0.4},{"t":0.2985,"v":-0.1},{"t":0.2995,"v":-0.8},{"t":0.301,"v":-1.2},{"t":0.302,"v":-0.2},{"t":0.303,"v":0.4},{"t":0.304,"v":1.3},{"t":0.305,"v":1.1},{"t":0.306,"v":2.2},{"t":0.307,"v":2.5},{"t":0.308,"v":3.4},{"t":0.309,"v":3.9},{"t":0.31,"v":4.9},{"t":0.311,"v":5.5},{"t":0.312,"v":6.7},{"t":0.313,"v":7.7},{"t":0.314,"v":9.4},{"t":0.315,"v":11.5},{"t":0.3154,"v":14},{"t":0.3158,"v":19.9},{"t":0.3163,"v":13},{"t":0.3169,"v":10},{"t":0.3177,"v":8.7},{"t":0.3187,"v":7.2},{"t":0.3197,"v":5.6},{"t":0.3207,"v":6.1},{"t":0.3217,"v":4.4},{"t":0.3227,"v":4.8},{"t":0.3237,"v":3.2},{"t":0.3247,"v":3.5},{"t":0.3257,"v":2.0},{"t":0.3267,"v":2.3},{"t":0.3277,"v":1.0},{"t":0.3287,"v":1.3},{"t":0.3297,"v":0.2},{"t":0.3307,"v":0.5},{"t":0.3317,"v":-0.3},{"t":0.3327,"v":0.0},{"t":0.3337,"v":-0.6},{"t":0.3347,"v":-0.3},{"t":0.3357,"v":-0.8},{"t":0.3368,"v":-1.1},{"t":0.3377,"v":-0.1},{"t":0.3387,"v":0.6},{"t":0.3397,"v":1.5},{"t":0.3407,"v":1.3},{"t":0.3417,"v":2.5},{"t":0.3427,"v":2.9},{"t":0.3437,"v":4.0},{"t":0.3447,"v":4.6},{"t":0.3457,"v":5.8},{"t":0.3467,"v":6.6},{"t":0.3477,"v":8.2},{"t":0.3487,"v":10},{"t":0.3494,"v":12.5},{"t":0.35,"v":20.1},{"t":0.3505,"v":14},{"t":0.3511,"v":10.5},{"t":0.3519,"v":9.0},{"t":0.3529,"v":7.6},{"t":0.3539,"v":6.1},{"t":0.3549,"v":6.5},{"t":0.3559,"v":4.9},{"t":0.3569,"v":5.3},{"t":0.3579,"v":3.7},{"t":0.3589,"v":4.0},{"t":0.3599,"v":2.5},{"t":0.3609,"v":2.8},{"t":0.3619,"v":1.5},{"t":0.3629,"v":1.8},{"t":0.3639,"v":0.8},{"t":0.3649,"v":1.1},{"t":0.3659,"v":0.3},{"t":0.3669,"v":0.6},{"t":0.3684,"v":0.0},{"t":0.3694,"v":1.1},{"t":0.3704,"v":1.8},{"t":0.3714,"v":1.6},{"t":0.3724,"v":2.7},{"t":0.3734,"v":3.1},{"t":0.3744,"v":4.1},{"t":0.3754,"v":4.6},{"t":0.3764,"v":5.7},{"t":0.3774,"v":6.4},{"t":0.3784,"v":7.6},{"t":0.3794,"v":8.6},{"t":0.3804,"v":10},{"t":0.3814,"v":12.5},{"t":0.3821,"v":20.7},{"t":0.3826,"v":17.5},{"t":0.3831,"v":12},{"t":0.3838,"v":10.5},{"t":0.3848,"v":9.4},{"t":0.3858,"v":8.2},{"t":0.3868,"v":8.6},{"t":0.3878,"v":7.0},{"t":0.3888,"v":7.4},{"t":0.3898,"v":5.8},{"t":0.3908,"v":6.2},{"t":0.3918,"v":4.8},{"t":0.3928,"v":5.1},{"t":0.3938,"v":3.8},{"t":0.3948,"v":4.1},{"t":0.3958,"v":2.9},{"t":0.3968,"v":3.2},{"t":0.3978,"v":2.1},{"t":0.3988,"v":2.4},{"t":0.3998,"v":1.5},{"t":0.4008,"v":1.8},{"t":0.4018,"v":1.1},{"t":0.4028,"v":1.4},{"t":0.4038,"v":0.9},{"t":0.4048,"v":1.2},{"t":0.4063,"v":0.8},{"t":0.4073,"v":2.0},{"t":0.4083,"v":2.7},{"t":0.4093,"v":3.8},{"t":0.4103,"v":4.6},{"t":0.4113,"v":6.0},{"t":0.4123,"v":7.2},{"t":0.4133,"v":8.8},{"t":0.4143,"v":11},{"t":0.4148,"v":13},{"t":0.4153,"v":21.8},{"t":0.4158,"v":17},{"t":0.4163,"v":12.2},{"t":0.417,"v":10.8},{"t":0.418,"v":9.6},{"t":0.419,"v":8.4},{"t":0.42,"v":8.8},{"t":0.421,"v":7.2},{"t":0.422,"v":7.6},{"t":0.423,"v":6.0},{"t":0.424,"v":6.4},{"t":0.425,"v":5.0},{"t":0.426,"v":5.3},{"t":0.427,"v":4.0},{"t":0.428,"v":4.4},{"t":0.429,"v":3.2},{"t":0.43,"v":3.5},{"t":0.431,"v":2.5},{"t":0.432,"v":2.8},{"t":0.433,"v":1.9},{"t":0.434,"v":2.2},{"t":0.435,"v":1.6},{"t":0.436,"v":2.0},{"t":0.437,"v":1.4},{"t":0.438,"v":1.8},{"t":0.4395,"v":1.5},{"t":0.4405,"v":2.6},{"t":0.4415,"v":3.4},{"t":0.4425,"v":4.5},{"t":0.4435,"v":5.4},{"t":0.4445,"v":6.7},{"t":0.4455,"v":7.6},{"t":0.4465,"v":8.8},{"t":0.4475,"v":9.5},{"t":0.4485,"v":10.5},{"t":0.4495,"v":11.5},{"t":0.4504,"v":13},{"t":0.4511,"v":21.9},{"t":0.4516,"v":17},{"t":0.4521,"v":12.5},{"t":0.4528,"v":10.8},{"t":0.4538,"v":9.4},{"t":0.4548,"v":8.1},{"t":0.4558,"v":8.5},{"t":0.4568,"v":6.9},{"t":0.4578,"v":7.3},{"t":0.4588,"v":5.7},{"t":0.4598,"v":6.0},{"t":0.4608,"v":4.6},{"t":0.4618,"v":4.9},{"t":0.4628,"v":3.6},{"t":0.4638,"v":3.9},{"t":0.4648,"v":2.7},{"t":0.4658,"v":3.0},{"t":0.4668,"v":1.9},{"t":0.4678,"v":2.2},{"t":0.4688,"v":1.3},{"t":0.4698,"v":1.6},{"t":0.4708,"v":1.0},{"t":0.4718,"v":1.3},{"t":0.4728,"v":0.8},{"t":0.4738,"v":1.1},{"t":0.4763,"v":0.7},{"t":0.4773,"v":1.9},{"t":0.4783,"v":2.7},{"t":0.4793,"v":3.8},{"t":0.4803,"v":4.6},{"t":0.4813,"v":6.0},{"t":0.4823,"v":7.0},{"t":0.4833,"v":8.4},{"t":0.4843,"v":9.6},{"t":0.4853,"v":11},{"t":0.4858,"v":13},{"t":0.4863,"v":21.9},{"t":0.4868,"v":17},{"t":0.4873,"v":12.3},{"t":0.488,"v":10.7},{"t":0.489,"v":9.4},{"t":0.49,"v":8.2},{"t":0.491,"v":8.6},{"t":0.492,"v":7.1},{"t":0.493,"v":7.5},{"t":0.494,"v":6.0},{"t":0.495,"v":6.3},{"t":0.496,"v":4.9},{"t":0.497,"v":5.2},{"t":0.498,"v":3.9},{"t":0.499,"v":4.2},{"t":0.5,"v":3.0},{"t":0.501,"v":3.3},{"t":0.502,"v":2.3},{"t":0.503,"v":2.6},{"t":0.504,"v":1.8},{"t":0.505,"v":2.1},{"t":0.506,"v":1.5},{"t":0.507,"v":1.8},{"t":0.508,"v":1.3},{"t":0.509,"v":1.6},{"t":0.5105,"v":1.2},{"t":0.5115,"v":2.3},{"t":0.5125,"v":3.1},{"t":0.5135,"v":4.2},{"t":0.5145,"v":5.0},{"t":0.5155,"v":6.3},{"t":0.5165,"v":7.3},{"t":0.5175,"v":8.6},{"t":0.5185,"v":9.6},{"t":0.5195,"v":10.6},{"t":0.5205,"v":11.5},{"t":0.5215,"v":13},{"t":0.5226,"v":20.5},{"t":0.5231,"v":16},{"t":0.5236,"v":11.5},{"t":0.5244,"v":10.0},{"t":0.5254,"v":8.8},{"t":0.5264,"v":7.6},{"t":0.5274,"v":8.0},{"t":0.5284,"v":6.5},{"t":0.5294,"v":6.9},{"t":0.5304,"v":5.4},{"t":0.5314,"v":5.8},{"t":0.5324,"v":4.4},{"t":0.5334,"v":4.7},{"t":0.5344,"v":3.4},{"t":0.5354,"v":3.7},{"t":0.5364,"v":2.6},{"t":0.5374,"v":2.9},{"t":0.5384,"v":1.9},{"t":0.5394,"v":2.2},{"t":0.5404,"v":1.4},{"t":0.5414,"v":1.7},{"t":0.5424,"v":1.0},{"t":0.5434,"v":1.3},{"t":0.5444,"v":0.9},{"t":0.5454,"v":1.2},{"t":0.5464,"v":0.8},{"t":0.5474,"v":1.1},{"t":0.55,"v":0.8},{"t":0.551,"v":1.9},{"t":0.552,"v":2.8},{"t":0.553,"v":3.8},{"t":0.554,"v":4.8},{"t":0.555,"v":5.9},{"t":0.556,"v":6.9},{"t":0.557,"v":7.9},{"t":0.558,"v":8.9},{"t":0.5589,"v":9.7},{"t":0.5596,"v":8.6},{"t":0.5604,"v":7.5},{"t":0.5614,"v":7.9},{"t":0.5624,"v":6.4},{"t":0.5634,"v":6.8},{"t":0.5644,"v":5.3},{"t":0.5654,"v":5.7},{"t":0.5664,"v":4.3},{"t":0.5674,"v":4.7},{"t":0.5684,"v":3.4},{"t":0.5694,"v":3.8},{"t":0.5704,"v":2.6},{"t":0.5714,"v":3.0},{"t":0.5724,"v":1.9},{"t":0.5734,"v":2.3},{"t":0.5744,"v":1.3},{"t":0.5754,"v":1.7},{"t":0.5764,"v":0.9},{"t":0.5774,"v":1.3},{"t":0.5784,"v":0.6},{"t":0.5794,"v":1.0},{"t":0.5804,"v":0.4},{"t":0.5814,"v":0.8},{"t":0.5824,"v":0.3},{"t":0.5842,"v":0.2},{"t":0.5852,"v":1.3},{"t":0.5862,"v":2.2},{"t":0.5872,"v":3.3},{"t":0.5882,"v":4.1},{"t":0.5892,"v":5.0},{"t":0.5902,"v":5.5},{"t":0.5912,"v":6.2},{"t":0.5922,"v":6.4},{"t":0.5937,"v":7.0},{"t":0.5945,"v":6.0},{"t":0.5955,"v":6.4},{"t":0.5965,"v":5.1},{"t":0.5975,"v":5.5},{"t":0.5985,"v":4.2},{"t":0.5995,"v":4.6},{"t":0.6005,"v":3.4},{"t":0.6015,"v":3.8},{"t":0.6025,"v":2.6},{"t":0.6035,"v":3.0},{"t":0.6045,"v":1.9},{"t":0.6055,"v":2.3},{"t":0.6065,"v":1.2},{"t":0.6075,"v":1.6},{"t":0.6085,"v":0.6},{"t":0.6095,"v":1.0},{"t":0.6105,"v":0.2},{"t":0.6115,"v":0.6},{"t":0.6125,"v":-0.1},{"t":0.6135,"v":0.3},{"t":0.6158,"v":-0.1},{"t":0.6168,"v":1.0},{"t":0.6178,"v":1.8},{"t":0.6188,"v":2.8},{"t":0.6198,"v":3.3},{"t":0.6208,"v":4.2},{"t":0.6218,"v":4.6},{"t":0.6228,"v":5.2},{"t":0.6238,"v":4.8},{"t":0.6248,"v":5.6},{"t":0.6258,"v":5.1},{"t":0.6268,"v":5.8},{"t":0.6278,"v":5.4},{"t":0.6289,"v":6.1},{"t":0.6297,"v":5.0},{"t":0.6307,"v":5.4},{"t":0.6317,"v":4.3},{"t":0.6327,"v":4.7},{"t":0.6337,"v":3.6},{"t":0.6347,"v":4.0},{"t":0.6357,"v":2.9},{"t":0.6367,"v":3.3},{"t":0.6377,"v":2.2},{"t":0.6387,"v":2.6},{"t":0.6397,"v":1.5},{"t":0.6407,"v":1.9},{"t":0.6417,"v":1.0},{"t":0.6427,"v":1.4},{"t":0.6437,"v":0.6},{"t":0.6447,"v":1.0},{"t":0.6457,"v":0.5},{"t":0.6467,"v":1.0},{"t":0.6477,"v":0.6},{"t":0.6487,"v":1.1},{"t":0.6497,"v":0.5},{"t":0.6507,"v":1.0},{"t":0.6526,"v":0.5},{"t":0.6536,"v":1.6},{"t":0.6546,"v":2.6},{"t":0.6556,"v":3.5},{"t":0.6566,"v":4.3},{"t":0.6576,"v":4.0},{"t":0.6586,"v":4.9},{"t":0.6596,"v":4.6},{"t":0.6606,"v":5.3},{"t":0.6616,"v":4.9},{"t":0.6632,"v":5.6},{"t":0.664,"v":4.6},{"t":0.665,"v":5.0},{"t":0.666,"v":3.9},{"t":0.667,"v":4.3},{"t":0.668,"v":3.2},{"t":0.669,"v":3.6},{"t":0.67,"v":2.5},{"t":0.671,"v":2.9},{"t":0.672,"v":1.8},{"t":0.673,"v":2.2},{"t":0.674,"v":1.2},{"t":0.675,"v":1.6},{"t":0.676,"v":0.6},{"t":0.677,"v":1.0},{"t":0.678,"v":0.2},{"t":0.679,"v":0.6},{"t":0.68,"v":-0.1},{"t":0.681,"v":0.3},{"t":0.682,"v":-0.2},{"t":0.683,"v":0.2},{"t":0.684,"v":-0.3},{"t":0.685,"v":0.1},{"t":0.686,"v":-0.4},{"t":0.687,"v":0.2},{"t":0.688,"v":-0.3},{"t":0.6895,"v":-0.1},{"t":0.6905,"v":1.0},{"t":0.6915,"v":2.0},{"t":0.6925,"v":2.8},{"t":0.6935,"v":3.5},{"t":0.6945,"v":3.1},{"t":0.6955,"v":3.9},{"t":0.6965,"v":3.5},{"t":0.6975,"v":4.2},{"t":0.6985,"v":3.7},{"t":0.7,"v":4.3},{"t":0.701,"v":3.5},{"t":0.702,"v":3.9},{"t":0.703,"v":3.0},{"t":0.704,"v":3.6},{"t":0.705,"v":3.4},{"t":0.706,"v":3.8},{"t":0.707,"v":3.0},{"t":0.708,"v":3.5},{"t":0.709,"v":2.7},{"t":0.71,"v":3.1},{"t":0.711,"v":2.2},{"t":0.712,"v":2.6},{"t":0.713,"v":1.8},{"t":0.714,"v":2.0},{"t":0.715,"v":1.2},{"t":0.716,"v":1.0},{"t":0.717,"v":0.3},{"t":0.718,"v":0.0},{"t":0.719,"v":-0.4},{"t":0.72,"v":-0.8}]
},
"hconcat":[
{"width":550,"height":603,
 "title":{"text":"Pulse Interval:\u00a0 10 ms","dx":-10},
 "layer":[
  {"data":{"name":"trace1"},"mark":{"type":"line","color":"#0000ff","strokeWidth":1.5},
   "encoding":{"x":{"field":"t","type":"quantitative","scale":{"domain":[0,0.32],"nice":false,"zero":false},"axis":{"title":null,"values":[0,0.05,0.1,0.15,0.2,0.25,0.3],"format":"~g"}},
               "y":{"field":"v","type":"quantitative","scale":{"domain":[-10,25],"nice":false},"axis":{"title":"Relative Response (mV)","values":[-10,-5,0,5,10,15,20,25],"format":"~g"}}}},
  {"data":{"name":"pulse1"},"mark":{"type":"rect","fill":"white","stroke":"#000","strokeWidth":1.5},
   "encoding":{"x":{"field":"x","type":"quantitative"},"x2":{"field":"x2"},"y":{"field":"y","type":"quantitative"},"y2":{"field":"y2"}}},
  {"data":{"name":"base1"},"mark":{"type":"rule","color":"#000","strokeWidth":2},
   "encoding":{"x":{"field":"x","type":"quantitative"},"x2":{"field":"x2"},"y":{"field":"y","type":"quantitative"}}}
 ]},
{"width":548,"height":603,
 "title":{"text":"Pulse Interval:\u00a0 20 ms","dx":-10},
 "layer":[
  {"data":{"name":"trace2"},"mark":{"type":"line","color":"#0000ff","strokeWidth":1.5},
   "encoding":{"x":{"field":"t","type":"quantitative","scale":{"domain":[0,0.52],"nice":false,"zero":false},"axis":{"title":null,"values":[0,0.05,0.1,0.15,0.2,0.25,0.3,0.35,0.4,0.45,0.5],"format":"~g"}},
               "y":{"field":"v","type":"quantitative","scale":{"domain":[-10,25],"nice":false},"axis":{"title":"Relative Response (mV)","values":[-10,-5,0,5,10,15,20,25],"format":"~g"}}}},
  {"data":{"name":"pulse2"},"mark":{"type":"rect","fill":"white","stroke":"#000","strokeWidth":1.5},
   "encoding":{"x":{"field":"x","type":"quantitative"},"x2":{"field":"x2"},"y":{"field":"y","type":"quantitative"},"y2":{"field":"y2"}}},
  {"data":{"name":"base2"},"mark":{"type":"rule","color":"#000","strokeWidth":2},
   "encoding":{"x":{"field":"x","type":"quantitative"},"x2":{"field":"x2"},"y":{"field":"y","type":"quantitative"}}}
 ]},
{"width":558,"height":603,
 "title":{"text":"Pulse Interval:\u00a0 30 ms","dx":13},
 "layer":[
  {"data":{"name":"trace3"},"mark":{"type":"line","color":"#0000ff","strokeWidth":1.5},
   "encoding":{"x":{"field":"t","type":"quantitative","scale":{"domain":[0,0.72],"nice":false,"zero":false},"axis":{"title":null,"values":[0,0.1,0.2,0.3,0.4,0.5,0.6,0.7],"format":"~g"}},
               "y":{"field":"v","type":"quantitative","scale":{"domain":[-10,25],"nice":false},"axis":{"title":"Relative Response (mV)","values":[-10,-5,0,5,10,15,20,25],"format":"~g"}}}},
  {"data":{"name":"pulse3"},"mark":{"type":"rect","fill":"white","stroke":"#000","strokeWidth":1.5},
   "encoding":{"x":{"field":"x","type":"quantitative"},"x2":{"field":"x2"},"y":{"field":"y","type":"quantitative"},"y2":{"field":"y2"}}},
  {"data":{"name":"base3"},"mark":{"type":"rule","color":"#000","strokeWidth":2},
   "encoding":{"x":{"field":"x","type":"quantitative"},"x2":{"field":"x2"},"y":{"field":"y","type":"quantitative"}}}
 ]}
]
}
